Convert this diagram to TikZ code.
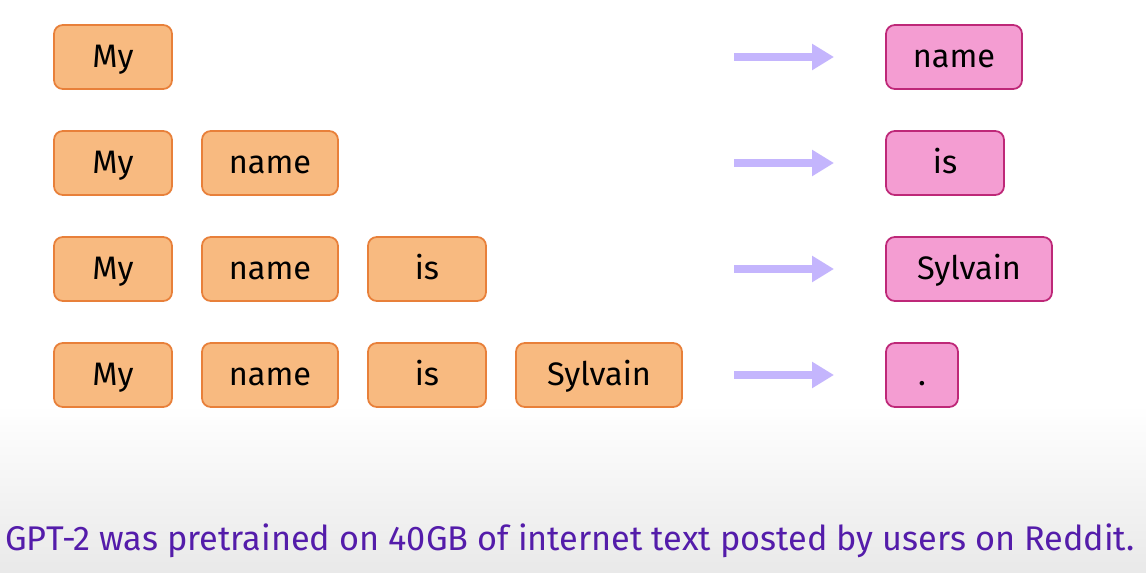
\documentclass[tikz,border=0pt]{standalone}
\usepackage{fontspec}
\setmainfont{Fira Sans}
\usetikzlibrary{arrows.meta}
\definecolor{tokfill}{RGB}{248,186,128}
\definecolor{tokline}{RGB}{232,128,58}
\definecolor{predfill}{RGB}{244,157,210}
\definecolor{predline}{RGB}{190,40,120}
\definecolor{arrowcol}{RGB}{196,181,253}
\definecolor{captioncol}{RGB}{84,28,170}
\tikzset{
  tok/.style={draw=tokline, fill=tokfill, line width=1pt, rounded corners=5pt,
    minimum height=1.28cm, inner sep=0pt, text height=0.6cm, text depth=0.16cm,
    font=\fontsize{18.5}{22}\selectfont},
  pred/.style={draw=predline, fill=predfill, line width=1pt, rounded corners=5pt,
    minimum height=1.28cm, inner sep=0pt, text height=0.6cm, text depth=0.16cm,
    font=\fontsize{18.5}{22}\selectfont},
  nextarrow/.style={draw=arrowcol, line width=0.16cm, -{Triangle[width=0.5cm,length=0.44cm]}},
}
\begin{document}
\begin{tikzpicture}[x=0.02cm,y=-0.02cm]
\useasboundingbox (0,0) rectangle (1146,573);
\fill[white] (0,0) rectangle (1146,573);
\shade[top color=white, bottom color={rgb,255:red,233;green,233;blue,233}] (0,405) rectangle (1146,573);

% row 1
\node[tok, minimum width=2.36cm] (my1) at (113,57){My};
\coordinate (s1) at (734,57);
\coordinate (e1) at (834,57);
\draw[nextarrow] (s1) -- (e1);
\node[pred, minimum width=2.72cm] (out1) at (954,57){name};

% row 2
\node[tok, minimum width=2.36cm] (my2) at (113,163){My};
\node[tok, minimum width=2.72cm] (name2) at (270,163){name};
\coordinate (s2) at (734,163);
\coordinate (e2) at (834,163);
\draw[nextarrow] (s2) -- (e2);
\node[pred, minimum width=2.36cm] (out2) at (945,163){is};

% row 3
\node[tok, minimum width=2.36cm] (my3) at (113,269){My};
\node[tok, minimum width=2.72cm] (name3) at (270,269){name};
\node[tok, minimum width=2.36cm] (is3) at (427,269){is};
\coordinate (s3) at (734,269);
\coordinate (e3) at (834,269);
\draw[nextarrow] (s3) -- (e3);
\node[pred, minimum width=3.32cm] (out3) at (969,269){Sylvain};

% row 4
\node[tok, minimum width=2.36cm] (my4) at (113,375){My};
\node[tok, minimum width=2.72cm] (name4) at (270,375){name};
\node[tok, minimum width=2.36cm] (is4) at (427,375){is};
\node[tok, minimum width=3.32cm] (sylvain4) at (599,375){Sylvain};
\coordinate (s4) at (734,375);
\coordinate (e4) at (834,375);
\draw[nextarrow] (s4) -- (e4);
\node[pred, minimum width=1.44cm] (out4) at (922,375){.};

\node[anchor=base west, inner sep=0pt, text=captioncol, font=\fontsize{19.5}{23}\selectfont] (caption) at (5,551)
  {GPT-2 was pretrained on 40GB of internet text posted by users on Reddit.};
\end{tikzpicture}
\end{document}
